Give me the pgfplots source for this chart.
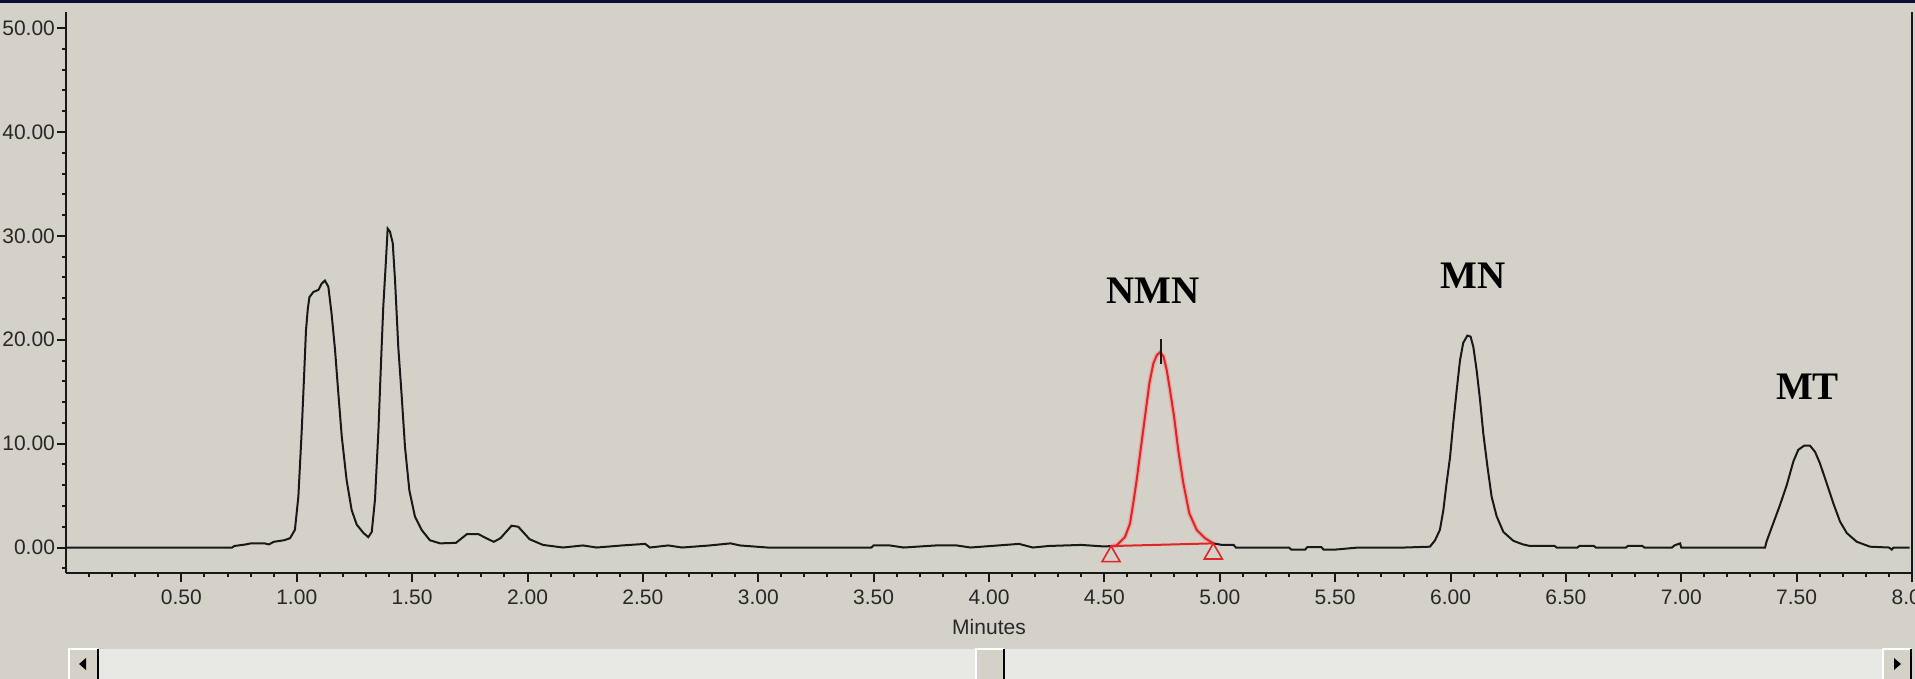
\documentclass[border=0pt]{standalone}
\usepackage{pgfplots}
\pgfplotsset{compat=1.18}
\usepackage{pgfplotstable}
\usepackage{fontspec}
\setmainfont{Liberation Sans}
\newfontfamily\labelfont{Liberation Serif}

\definecolor{winbg}{RGB}{212,209,201}
\definecolor{track}{RGB}{232,232,228}
\definecolor{pkred}{RGB}{222,38,38}
\definecolor{halo}{RGB}{238,150,150}
\definecolor{ink}{RGB}{24,24,24}
\definecolor{txt}{RGB}{40,40,40}
\definecolor{navy}{RGB}{14,14,52}
\definecolor{shade}{RGB}{128,128,128}

% trace before the NMN peak
\pgfplotstableread{
x y
0.00 0.0
0.72 0.0
0.73 0.15
0.78 0.3
0.80 0.4
0.86 0.4
0.88 0.3
0.90 0.55
0.945 0.7
0.971 0.9
0.992 1.7
1.007 4.9
1.021 11.0
1.031 16.1
1.040 20.9
1.048 23.0
1.055 24.1
1.072 24.6
1.094 24.8
1.108 25.4
1.122 25.7
1.137 25.1
1.151 22.5
1.166 19.0
1.180 14.9
1.195 10.7
1.216 6.5
1.238 3.6
1.260 2.2
1.289 1.4
1.310 1.0
1.325 1.5
1.339 4.6
1.354 11.3
1.365 17.7
1.375 23.2
1.385 27.0
1.394 30.7
1.404 30.4
1.416 29.3
1.426 25.7
1.440 19.3
1.455 14.5
1.469 9.7
1.488 5.5
1.512 3.0
1.541 1.7
1.577 0.7
1.621 0.4
1.69 0.45
1.738 1.3
1.786 1.3
1.83 0.8
1.854 0.55
1.883 0.9
1.931 2.1
1.960 2.0
2.009 0.8
2.067 0.25
2.154 0.0
2.24 0.2
2.30 0.0
2.41 0.2
2.51 0.35
2.53 0.0
2.61 0.2
2.67 0.0
2.79 0.2
2.88 0.4
2.92 0.2
3.04 0.0
3.49 0.0
3.50 0.2
3.57 0.2
3.63 0.0
3.77 0.2
3.86 0.2
3.92 0.0
4.04 0.2
4.13 0.35
4.19 0.0
4.26 0.15
4.33 0.2
4.40 0.25
4.50 0.1
4.529 0.14
}\pre

% NMN peak, integrated (red)
\pgfplotstableread{
x y
4.529 0.14
4.553 0.2
4.589 1.0
4.611 2.3
4.625 4.25
4.640 6.5
4.657 9.4
4.676 12.6
4.695 15.8
4.712 17.7
4.727 18.5
4.741 18.8
4.756 18.4
4.770 17.1
4.784 15.2
4.802 12.6
4.820 9.4
4.842 6.2
4.868 3.3
4.900 1.7
4.936 0.9
4.972 0.4
}\nmn

% trace after the NMN peak
\pgfplotstableread{
x y
4.972 0.4
5.01 0.25
5.06 0.25
5.07 0.0
5.30 0.0
5.31 -0.2
5.37 -0.2
5.38 0.05
5.44 0.05
5.45 -0.2
5.50 -0.2
5.60 0.0
5.80 0.0
5.911 0.08
5.933 0.7
5.954 1.7
5.969 3.6
5.983 6.2
5.998 8.7
6.012 12.0
6.027 15.2
6.041 18.0
6.055 19.7
6.073 20.4
6.087 20.3
6.099 19.3
6.113 17.1
6.128 14.2
6.142 11.0
6.160 7.8
6.178 4.9
6.200 3.0
6.229 1.5
6.272 0.65
6.314 0.3
6.34 0.17
6.45 0.17
6.46 0.0
6.55 0.0
6.56 0.17
6.62 0.17
6.63 0.0
6.76 0.0
6.77 0.17
6.83 0.17
6.84 0.0
6.96 0.0
6.97 0.2
6.995 0.4
7.00 0.0
7.363 0.0
7.370 0.6
7.398 2.3
7.428 4.1
7.457 6.0
7.486 8.3
7.507 9.4
7.532 9.8
7.558 9.8
7.580 9.2
7.601 8.1
7.630 6.2
7.659 4.25
7.688 2.5
7.717 1.4
7.760 0.56
7.818 0.08
7.90 0.0
7.912 -0.2
7.92 0.0
7.99 0.0
}\post

\begin{document}
\begin{tikzpicture}[x=0.5pt,y=0.5pt]
\useasboundingbox (0,0) rectangle (1915,679);
\fill[winbg] (0,0) rectangle (1915,679);
\fill[navy] (0,676) rectangle (1915,679);

% scroll bar
\fill[track] (99,0) rectangle (1882,30);
\foreach \a/\b in {68/99,975/1005,1882/1912}{
  \fill[winbg] (\a,0) rectangle (\b,31);
  \draw[white,line width=1pt] (\a+1,0) -- (\a+1,30) -- (\b-1,30);
  \draw[shade,line width=1pt] (\b-1,30) -- (\b-1,0);
}
\fill[black] (79,15) -- (86,21) -- (86,9) -- cycle;
\fill[black] (1901,15) -- (1894,21) -- (1894,9) -- cycle;

\begin{axis}[
  at={(33pt,52.75pt)}, anchor=south west,
  scale only axis, width=923pt, height=280.5pt,
  xmin=0, xmax=8, ymin=-2.5, ymax=51.5,
  clip=false,
  axis x line*=bottom, axis y line*=left,
  axis line style={ink,line width=1pt,-},
  tick align=outside,
  xtick={0.5,1,...,8}, minor xtick={0.1,0.2,...,7.95},
  ytick={0,10,...,50}, minor ytick={-2,0,...,50},
  major tick length=4.5pt, minor tick length=2pt,
  every tick/.style={ink,line width=1pt},
  tick label style={font=\fontsize{10.5}{12}\selectfont, text=txt},
  yticklabel style={xshift=2.5pt},
  /pgf/number format/.cd, fixed, fixed zerofill, precision=2, assume math mode=true,
  /pgfplots/.cd,
  xlabel={Minutes},
  xlabel style={at={(axis description cs:0.5,0)}, anchor=center, yshift=-26.75pt,
    font=\fontsize{10.5}{12}\selectfont, text=txt},
]
\addplot[ink, line width=1pt] table[x=x,y=y] {\pre};
\addplot[halo, line width=2.4pt, opacity=0.6] table[x=x,y=y] {\nmn};
\addplot[pkred, line width=1pt] table[x=x,y=y] {\nmn};
\addplot[ink, line width=1pt] table[x=x,y=y] {\post};
% integration baseline and its end marks
\addplot[pkred, line width=1pt] coordinates {(4.529,0.14) (4.972,0.4)};
\addplot[pkred, only marks, mark=triangle, mark size=5.2pt,
  mark options={line width=0.8pt, yshift=-5.2pt}] coordinates {(4.529,0.14) (4.972,0.4)};
% apex marker
\addplot[ink, line width=1pt] coordinates {(4.745,17.7) (4.745,20.1)};
% right frame line
\draw[ink, line width=1pt] (axis cs:8,-2.5) -- (axis cs:8,51.5);

\node[font=\labelfont\bfseries\fontsize{19.5}{20}\selectfont] at (axis cs:4.711,24.74) {NMN};
\node[font=\labelfont\bfseries\fontsize{19.5}{20}\selectfont] at (axis cs:6.097,26.15) {MN};
\node[font=\labelfont\bfseries\fontsize{19.5}{20}\selectfont] at (axis cs:7.547,15.51) {MT};
\end{axis}
\end{tikzpicture}
\end{document}
